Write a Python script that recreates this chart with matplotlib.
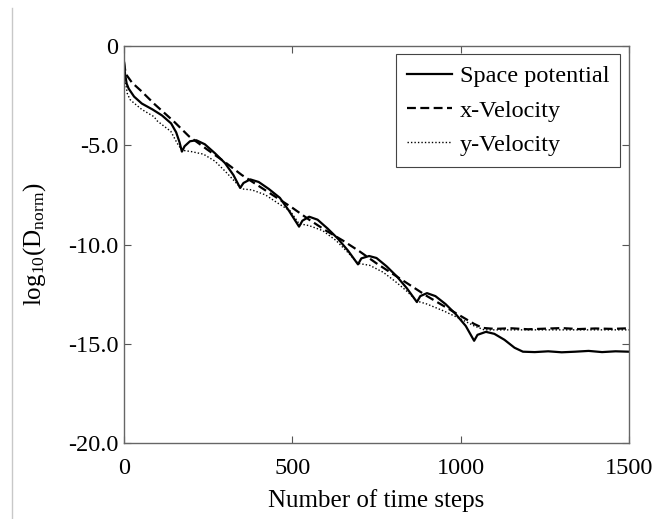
import matplotlib
matplotlib.use("Agg")
import matplotlib.pyplot as plt
from matplotlib.lines import Line2D

plt.rcParams['font.family'] = ['Liberation Serif', 'DejaVu Serif']
plt.rcParams['mathtext.default'] = 'regular'

# Space potential
sp_steps = [0, 3, 8, 14, 30, 53, 85, 113, 140, 155, 165, 172, 180, 196, 215, 240,
            270, 300, 325, 345, 355, 375, 400, 430, 463, 490, 520, 530, 550, 575,
            605, 635, 665, 695, 705, 728, 750, 780, 810, 840, 870, 880, 900, 925,
            955, 985, 1015, 1040, 1050, 1075, 1100, 1130, 1160, 1185, 1220, 1260,
            1300, 1340, 1380, 1420, 1460, 1500]
sp_vals = [-0.8, -1.4, -1.9, -2.15, -2.55, -2.9, -3.2, -3.5, -3.9, -4.35, -4.85,
           -5.32, -5.05, -4.8, -4.75, -4.95, -5.4, -5.9, -6.5, -7.15, -6.9, -6.72,
           -6.85, -7.2, -7.65, -8.3, -9.1, -8.8, -8.6, -8.75, -9.2, -9.7, -10.3,
           -11.0, -10.7, -10.58, -10.68, -11.1, -11.6, -12.2, -12.9, -12.6, -12.45,
           -12.6, -13.0, -13.5, -14.1, -14.85, -14.55, -14.4, -14.5, -14.8, -15.2,
           -15.4, -15.42, -15.38, -15.43, -15.4, -15.36, -15.42, -15.38, -15.4]

# x-Velocity
xv_steps = [0, 5, 24, 50, 92, 148, 193, 250, 300, 350, 400, 450, 500, 550, 600,
            650, 700, 750, 800, 850, 900, 950, 1000, 1040, 1065, 1100, 1150, 1200,
            1250, 1300, 1350, 1400, 1450, 1500]
xv_vals = [-0.8, -1.4, -1.85, -2.25, -2.95, -3.8, -4.55, -5.25, -5.85, -6.5, -7.05,
           -7.6, -8.15, -8.75, -9.3, -9.8, -10.35, -10.95, -11.5, -12.05, -12.6,
           -13.1, -13.6, -14.0, -14.2, -14.25, -14.22, -14.27, -14.24, -14.21,
           -14.26, -14.23, -14.25, -14.22]

# y-Velocity
yv_steps = [0, 4, 10, 18, 30, 53, 89, 99, 139, 158, 172, 200, 236, 270, 300, 325,
            350, 380, 420, 460, 493, 520, 550, 590, 630, 665, 695, 730, 770, 805,
            840, 870, 900, 950, 1000, 1040, 1070, 1150, 1250, 1350, 1450, 1500]
yv_vals = [-0.8, -1.8, -2.4, -2.7, -2.88, -3.2, -3.56, -3.78, -4.3, -4.9, -5.25,
           -5.32, -5.45, -5.8, -6.3, -6.75, -7.2, -7.25, -7.5, -7.95, -8.3, -8.95,
           -9.05, -9.3, -9.8, -10.4, -10.95, -11.05, -11.4, -11.85, -12.35, -12.85,
           -13.0, -13.35, -13.75, -14.1, -14.3, -14.3, -14.3, -14.3, -14.3, -14.3]

x_ticks = [0, 500, 1000, 1500]
y_ticks = [0, -5, -10, -15, -20]
y_tick_labels = ['0', '-5.0', '-10.0', '-15.0', '-20.0']

fig = plt.figure(figsize=(6.55, 5.19), dpi=100)
ax = fig.add_axes([0.1893, 0.1464, 0.771, 0.765])

ax.plot(sp_steps, sp_vals, color='black', linestyle='-', linewidth=1.6, label='Space potential')
ax.plot(xv_steps, xv_vals, color='black', linestyle=(0, (4, 2)), linewidth=1.6, label='x-Velocity')
ax.plot(yv_steps, yv_vals, color='black', linestyle=(0, (1, 1.5)), linewidth=1.0, label='y-Velocity')

ax.set_xlim(0, 1500)
ax.set_ylim(-20, 0)
ax.set_xticks(x_ticks)
ax.set_yticks(y_ticks)
ax.set_yticklabels(y_tick_labels)
ax.tick_params(direction='in', top=True, right=True, length=5, width=0.8,
               colors='#555555', labelcolor='black', labelsize=17.5)
ax.tick_params(axis='x', pad=11)
ax.tick_params(axis='y', pad=4)
for s in ax.spines.values():
    s.set_color('#666666')
    s.set_linewidth(1.0)

ax.set_xlabel('Number of time steps', fontsize=18, labelpad=7)
ax.set_ylabel('log$_{10}$(D$_{norm}$)', fontsize=18, labelpad=14)

leg = ax.legend(loc='upper right', fontsize=17.5, frameon=True, fancybox=False,
                edgecolor='#444444', framealpha=1, handlelength=1.85,
                handletextpad=0.35, labelspacing=0.5, borderpad=0.45,
                borderaxespad=0.35)
leg.get_frame().set_linewidth(0.8)

# thin grey border line on the left edge of the picture
fig.add_artist(Line2D([12 / 655, 12 / 655], [0, 1 - 8 / 519], color='#c8c8c8', linewidth=1.0))

fig.savefig('out.png', dpi=100)
